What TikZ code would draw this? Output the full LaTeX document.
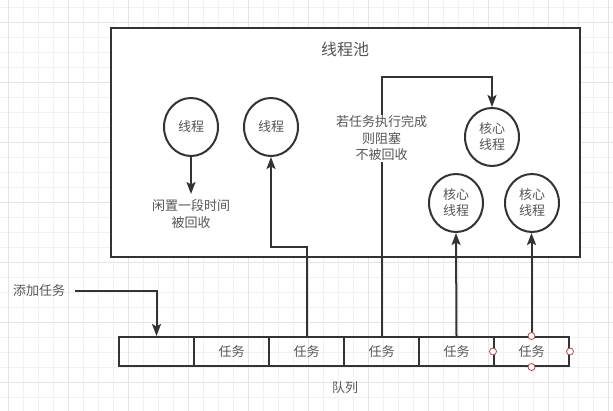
\documentclass[tikz,border=0pt]{standalone}
\usepackage{fontspec}
\setmainfont{Noto Sans CJK SC}
\usetikzlibrary{arrows.meta,shapes.geometric}
\definecolor{lineC}{HTML}{333333}
\definecolor{txtC}{HTML}{555555}
\definecolor{gridMinor}{HTML}{F1F1F1}
\definecolor{gridMajor}{HTML}{E4E4E4}
\definecolor{handleC}{HTML}{B04A50}
\tikzset{
  conn/.style={draw=lineC, line width=2pt},
  arr/.style={conn, -{Stealth[length=12pt,width=9pt,inset=2.5pt]}},
  thread/.style={ellipse, draw=lineC, line width=2pt, minimum width=54pt, minimum height=58pt, inner sep=0pt, align=center, text=txtC, font=\fontsize{13}{16}\selectfont},
  cell/.style={rectangle, draw=lineC, line width=2pt, minimum width=75pt, minimum height=29pt, inner sep=0pt, text=txtC, font=\fontsize{13}{16}\selectfont},
  lbl/.style={text=txtC, align=center, inner sep=1pt, font=\fontsize{13}{16.5}\selectfont},
  handle/.style={circle, draw=handleC, fill=white, line width=0.8pt, minimum size=7pt, inner sep=0pt}
}
\begin{document}
\begin{tikzpicture}[x=1pt,y=-1pt]
\useasboundingbox (0,0) rectangle (613,411);
\fill[white] (0,0) rectangle (613,411);
% grid
\foreach \x in {8,23,...,608} \draw[gridMinor, line width=0.8pt] (\x,0) -- (\x,411);
\foreach \y in {7,22,...,407} \draw[gridMinor, line width=0.8pt] (0,\y) -- (613,\y);
\foreach \x in {8,68,...,608} \draw[gridMajor, line width=0.8pt] (\x,0) -- (\x,411);
\foreach \y in {22,82,...,407} \draw[gridMajor, line width=0.8pt] (0,\y) -- (613,\y);
% pool
\node[rectangle, draw=lineC, line width=2pt, fill=white, minimum width=469pt, minimum height=229pt, inner sep=0pt] (pool) at (345.5,142.5) {};
\node[lbl, font=\fontsize{16}{19}\selectfont] (title) at (345,49) {线程池};
% threads
\node[thread] (t1) at (191,127) {线程};
\node[thread] (t2) at (271,127) {线程};
\node[thread] (k1) at (492,137) {核心\\线程};
\node[thread] (k2) at (456,203) {核心\\线程};
\node[thread] (k3) at (532,203) {核心\\线程};
% queue
\node[cell] (q1) at (156.5,351.5) {};
\node[cell] (q2) at (231.5,351.5) {任务};
\node[cell] (q3) at (306.5,351.5) {任务};
\node[cell] (q4) at (381.5,351.5) {任务};
\node[cell] (q5) at (456.5,351.5) {任务};
\node[cell] (q6) at (531.5,351.5) {任务};
\node[lbl] (qlabel) at (345,388) {队列};
% add task
\node[lbl] (add) at (39,291) {添加任务};
\coordinate (addstart) at (75,291);
\draw[arr] (addstart) -| (q1.north);
% idle
\node[lbl] (idle) at (191,214) {闲置一段时间\\被回收};
\coordinate (idletop) at (191,194);
\draw[arr] (t1.south) -- (idletop);
% q3 -> t2
\coordinate (bend3) at (306.5,247);
\draw[arr] (q3.north) -- (bend3) -| (t2.south);
% q4 -> k1
\coordinate (bend4) at (381.5,77);
\draw[arr] (q4.north) -- (bend4) -| (k1.north);
\node[lbl, fill=white] (block) at (381.5,138.5) {若任务执行完成\\则阻塞\\不被回收};
% q5, q6
\draw[arr] (q5.north) -- (k2.south);
\draw[arr] (q6.north) -- (q6.north |- k3.south);
% handles
\node[handle] (h1) at (q6.north) {};
\node[handle] (h2) at (q6.south) {};
\node[handle] (h3) at (q6.west) {};
\node[handle] (h4) at (q6.east) {};
\end{tikzpicture}
\end{document}
